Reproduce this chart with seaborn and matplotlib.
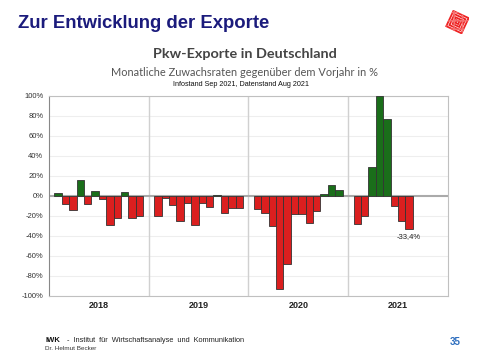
import numpy as np
import pandas as pd
import seaborn as sns
import matplotlib.pyplot as plt
import matplotlib.patches as mpatches
import matplotlib.transforms as mtrans

# monthly growth rates vs. previous year, in %
years = ['2018', '2019', '2020', '2021']
v2018 = [3, -8, -14, 16, -8, 5, -3, -29, -22, 4, -22, -20]
v2019 = [-20, -2, -9, -25, -7, -29, -7, -11, 1, -17, -12, -12]
v2020 = [-13, -17, -30, -93, -68, -18, -18, -27, -15, 2, 11, 6]
v2021 = [-28.5, -20, 29, 100, 77, -10.5, -25, -33.4]
last_label = '-33,4%'
yticks = [100, 80, 60, 40, 20, 0, -20, -40, -60, -80, -100]

red = '#fa0000'
green = '#0c7c0c'

rows = []
for i, vals in enumerate([v2018, v2019, v2020, v2021]):
    for m, v in enumerate(vals):
        rows.append({'year': i, 'month': m + 1, 'value': v,
                     'sign': 'pos' if v >= 0 else 'neg'})
df = pd.DataFrame(rows)
step = 0.0742
df['pos'] = df['year'] + 0.5 + (df['month'] - 6.5) * step

sns.set_style('white')
plt.rcParams['font.family'] = ['Liberation Sans', 'DejaVu Sans']

fig = plt.figure(figsize=(4.8, 3.6), dpi=100)
ax = fig.add_axes([0.102, 0.178, 0.831, 0.556])

sns.barplot(data=df, x='pos', y='value', hue='sign', native_scale=True,
            palette={'pos': green, 'neg': red}, dodge=False, width=1.0,
            edgecolor='#333333', linewidth=0.6, legend=False, ax=ax, zorder=3)

ax.set_xlim(0, 4)
ax.set_ylim(-100, 100)
ax.set_yticks(yticks)
ax.set_yticklabels([f'{v}%' for v in yticks], fontsize=5.5, color='#333333')
ax.tick_params(axis='y', length=2, width=0.6, color='#777777', pad=2)
for v in yticks:
    if v != 0:
        ax.axhline(v, color='#eeeeee', lw=0.8, zorder=0)
for x in [1, 2, 3]:
    ax.axvline(x, color='#d0d0d0', lw=1.0, zorder=1)
ax.axhline(0, color='#aaaaaa', lw=1.5, zorder=2)

ax.set_xticks([0.5, 1.5, 2.5, 3.5])
ax.set_xticklabels(years, fontsize=6.5, fontweight='bold', color='#222222')
ax.tick_params(axis='x', length=0, pad=4)
ax.set_xlabel('')
ax.set_ylabel('')
for side in ['top', 'right', 'bottom']:
    ax.spines[side].set_color('#c0c0c0')
    ax.spines[side].set_linewidth(0.8)
ax.spines['left'].set_color('#888888')
ax.spines['left'].set_linewidth(0.8)

last = df.iloc[-1]
ax.annotate(last_label, (last['pos'], last['value']), xytext=(0, -3),
            textcoords='offset points', ha='center', va='top',
            fontsize=5.5, color='#222222')

# slide texts
fig.text(0.038, 0.935, 'Zur Entwicklung der Exporte', fontsize=13.3, fontweight='bold',
         color='#1b1b7c', va='center', ha='left')
fig.text(0.51, 0.849, 'Pkw-Exporte in Deutschland', fontsize=10.4, fontweight='bold',
         color='#444444', va='center', ha='center', family=['Lato', 'DejaVu Sans'])
fig.text(0.51, 0.800, 'Monatliche Zuwachsraten gegenüber dem Vorjahr in %', fontsize=7.9,
         color='#555555', va='center', ha='center', family=['Lato', 'DejaVu Sans'])
fig.text(0.503, 0.766, 'Infostand Sep 2021, Datenstand Aug 2021', fontsize=5.2,
         color='#111111', va='center', ha='center')

fig.text(0.094, 0.055, 'IWK', fontsize=5.5, fontweight='bold', color='#111111', va='center')
fig.text(0.135, 0.055, ' -  Institut  für  Wirtschaftsanalyse  und  Kommunikation', fontsize=5.3,
         color='#222222', va='center')
fig.text(0.094, 0.031, 'Dr. Helmut Becker', fontsize=4.6, color='#333333', va='center')
fig.text(0.948, 0.050, '35', fontsize=7, fontweight='bold', color='#2f6fbf',
         va='center', ha='center')

# logo
lax = fig.add_axes([0.928, 0.905, 0.05, 0.067])
lax.set_xlim(-1, 1)
lax.set_ylim(-1, 1)
lax.set_aspect('equal')
lax.axis('off')
rot = mtrans.Affine2D().rotate_deg(-25) + lax.transData
for s in [0.7, 0.5, 0.3, 0.12]:
    lax.add_patch(mpatches.Rectangle((-s, -s), 2 * s, 2 * s, fill=False,
                                     edgecolor='#ee2222', lw=1.3, transform=rot))
lax.add_patch(mpatches.Rectangle((-0.75, -0.75), 1.5, 1.5, fill=False, hatch='++',
                                 edgecolor='#f57070', lw=0, transform=rot))

fig.savefig('out.png', dpi=100)
